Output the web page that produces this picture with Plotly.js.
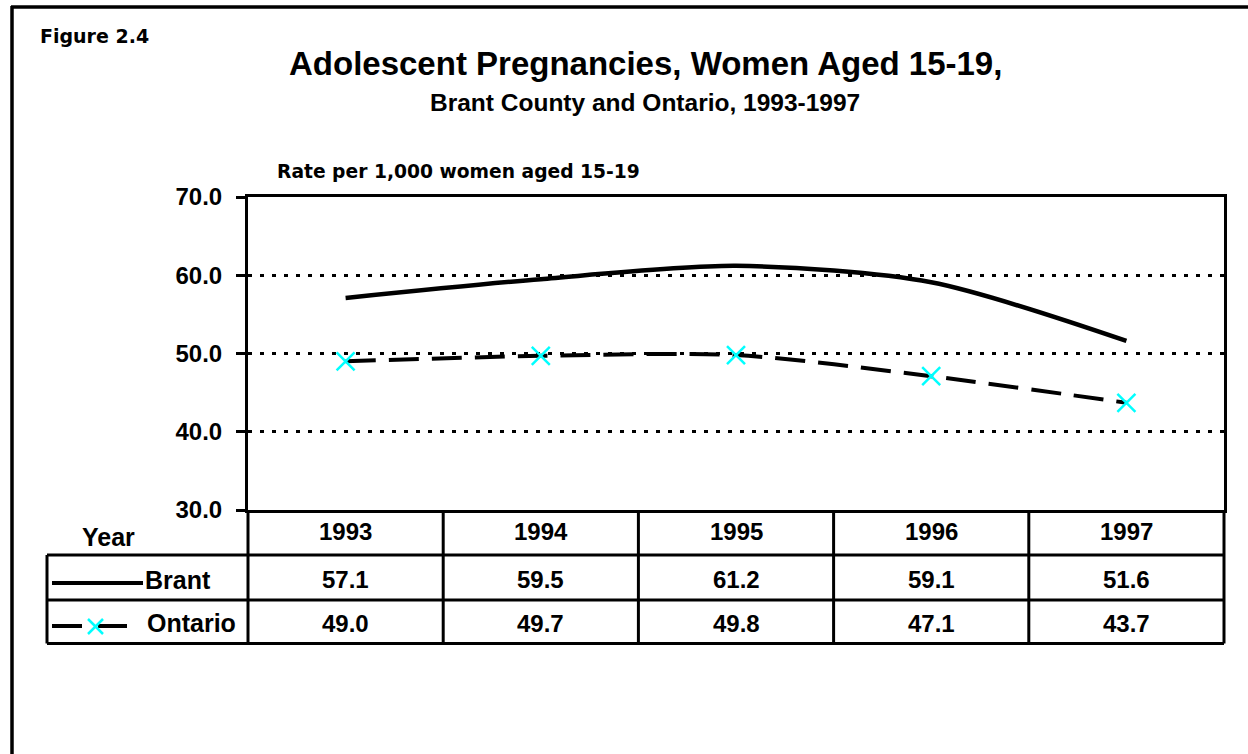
<!DOCTYPE html>
<html>
<head>
<meta charset="utf-8">
<script src="https://cdn.plot.ly/plotly-3.0.1.min.js"></script>
<style>html,body{margin:0;padding:0;background:#fff;}#chart{width:1248px;height:754px;}</style>
</head>
<body>
<div id="chart"></div>
<script>
// ---- data ----
const years = [1993, 1994, 1995, 1996, 1997];
const brant = [57.1, 59.5, 61.2, 59.1, 51.6];
const ontario = [49.0, 49.7, 49.8, 47.1, 43.7];
const seriesNames = ['Brant', 'Ontario'];
const yTicks = [30, 40, 50, 60, 70];

const W = 1248, H = 754;
const px = x => x / W;
const py = y => 1 - y / H;

const F = 'Liberation Sans, Arial, sans-serif';
const FD = 'DejaVu Sans, sans-serif';

const traces = [
  {
    x: years, y: brant, name: seriesNames[0], type: 'scatter', mode: 'lines',
    line: {color: '#000', width: 4.5, shape: 'spline', smoothing: 0.8},
    hoverinfo: 'x+y'
  },
  {
    x: years, y: ontario, name: seriesNames[1], type: 'scatter', mode: 'lines+markers',
    line: {color: '#000', width: 4, dash: '30px,13px', shape: 'spline', smoothing: 0.8},
    marker: {symbol: 'x-thin-open', size: 18, color: '#00FFFF', line: {color: '#00FFFF', width: 2.5}},
    hoverinfo: 'x+y'
  }
];

const shapes = [];
const line = (x0, y0, x1, y1, xref, w) => shapes.push({
  type: 'line', xref: xref || 'paper', yref: 'paper',
  x0: x0, y0: y0, x1: x1, y1: y1, line: {color: '#000', width: w || 3}
});

// outer frame (top + left)
line(px(11), py(7), px(1248), py(7), 'paper', 3.5);
line(px(12), py(6), px(12), py(754), 'paper', 3.5);

// table rows
line(px(47), py(555), px(1224), py(555));
line(px(47), py(600), px(1224), py(600));
line(px(47), py(643.5), px(1224), py(643.5));
line(px(47), py(555), px(47), py(643.5));
line(px(248), py(510), px(248), py(643.5));
line(px(1224), py(510), px(1224), py(643.5));
// column dividers at category boundaries
years.slice(0, -1).forEach(yr => {
  shapes.push({type: 'line', xref: 'x', yref: 'paper', x0: yr + 0.5, x1: yr + 0.5,
    y0: py(510), y1: py(643.5), line: {color: '#000', width: 3}});
});

// legend samples inside table
line(px(52), py(583), px(143), py(583), 'paper', 4);
line(px(52), py(626), px(82), py(626), 'paper', 4);
line(px(98), py(626), px(127), py(626), 'paper', 4);
// cyan x
shapes.push({type: 'line', xref: 'paper', yref: 'paper', x0: px(88), y0: py(619), x1: px(103), y1: py(634), line: {color: '#00FFFF', width: 2.5}});
shapes.push({type: 'line', xref: 'paper', yref: 'paper', x0: px(88), y0: py(634), x1: px(103), y1: py(619), line: {color: '#00FFFF', width: 2.5}});

const annotations = [];
const ann = (text, x, y, opts) => annotations.push(Object.assign({
  text: text, x: x, y: y, xref: 'paper', yref: 'paper', showarrow: false,
  xanchor: 'center', yanchor: 'middle',
  font: {family: F, size: 24, color: '#000', weight: 'bold'}
}, opts || {}));

ann('Figure 2.4', px(38), py(36), {xanchor: 'left', font: {family: FD, size: 19, color: '#000', weight: 'bold'}});
ann('Adolescent Pregnancies, Women Aged 15-19,', px(645), py(64), {font: {family: F, size: 33, color: '#000', weight: 'bold'}});
ann('Brant County and Ontario, 1993-1997', px(645), py(102), {font: {family: F, size: 24.5, color: '#000', weight: 'bold'}});
ann('Rate per 1,000 women aged 15-19', px(275), py(171), {xanchor: 'left', font: {family: FD, size: 18.7, color: '#000', weight: 'bold'}});

ann('Year', px(108), py(537), {font: {family: F, size: 25, color: '#000', weight: 'bold'}});
ann(seriesNames[0], px(143), py(580), {xanchor: 'left', font: {family: F, size: 25, color: '#000', weight: 'bold'}});
ann(seriesNames[1], px(145), py(623), {xanchor: 'left', font: {family: F, size: 25, color: '#000', weight: 'bold'}});

years.forEach((yr, i) => {
  ann(String(yr), yr, py(531), {xref: 'x'});
  ann(brant[i].toFixed(1), yr, py(579), {xref: 'x'});
  ann(ontario[i].toFixed(1), yr, py(623), {xref: 'x'});
});

const layout = {
  width: W, height: H,
  margin: {l: 0, r: 0, t: 0, b: 0},
  paper_bgcolor: '#fff', plot_bgcolor: '#fff',
  showlegend: false,
  xaxis: {
    domain: [px(248), px(1224)],
    range: [1992.5, 1997.5],
    showgrid: false, zeroline: false,
    showline: true, linecolor: '#000', linewidth: 3, mirror: true,
    showticklabels: false, ticks: ''
  },
  yaxis: {
    domain: [py(510), py(197)],
    range: [30, 70],
    tickvals: yTicks,
    ticktext: yTicks.map(v => v.toFixed(1)),
    showgrid: true, gridcolor: '#000', gridwidth: 3, griddash: '4px,8px',
    zeroline: false,
    showline: true, linecolor: '#000', linewidth: 3, mirror: true,
    ticks: 'outside', ticklen: 9, tickwidth: 3, tickcolor: '#000',
    ticklabelstandoff: 9,
    tickfont: {family: F, size: 24, color: '#000', weight: 'bold'}
  },
  shapes: shapes,
  annotations: annotations
};

Plotly.newPlot('chart', traces, layout, {displayModeBar: false, staticPlot: true});
</script>
</body>
</html>
